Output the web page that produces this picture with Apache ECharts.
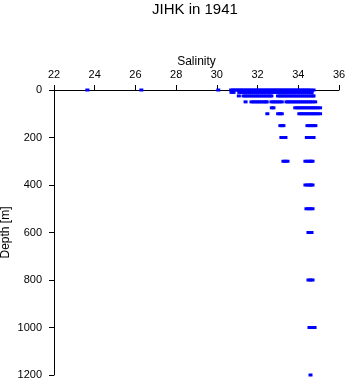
<!DOCTYPE html>
<html><head><meta charset="utf-8">
<script src="https://cdn.jsdelivr.net/npm/echarts@6/dist/echarts.min.js"></script>
<style>html,body{margin:0;padding:0;background:#fff}#c{width:348px;height:384px}</style>
</head><body><div id="c"></div>
<script>
var xTicks = [22, 24, 26, 28, 30, 32, 34, 36];
var yTicks = [0, 200, 400, 600, 800, 1000, 1200];
var depths = [0, 10, 25, 50, 75, 100, 150, 200, 300, 400, 500, 600, 800, 1000, 1200];
var sal0 = [23.64, 26.29, 30.07, 30.7,30.8,30.9,31.0,31.1,31.2,31.3,31.4,31.5,31.6,31.7,31.8,31.9,32.0,32.1,32.2,32.3,32.4,32.5,32.6,32.7,32.8,32.9,33.0,33.1,33.2,33.3,33.4,33.5,33.6,33.7,33.8,33.9,34.0,34.1,34.2,34.3,34.4,34.5,34.6,34.75];
var sal10 = [30.72,30.82, 31.1,31.2,31.3,31.4,31.5,31.6,31.7,31.8,31.9,32.0,32.1,32.2,32.3,32.4,32.5,32.6,32.7,32.8,32.9,33.0,33.1,33.2,33.3,33.4,33.5,33.6,33.7,33.8,33.9,34.0,34.1,34.2,34.3,34.4,34.5,34.6,34.66];
var sal25 = [31.08, 31.31,31.4,31.5,31.6,31.7,31.8,31.9,32.0,32.1,32.2,32.3,32.4,32.5,32.6,32.68, 33.0,33.1,33.2,33.3,33.4,33.5,33.6,33.7,33.8,33.9,34.0,34.1,34.2,34.3,34.4,34.5,34.6,34.7,34.75];
var sal50 = [31.41, 31.7,31.8,31.9,32.0,32.1,32.2,32.3,32.4,32.45, 32.68,32.78,32.88,32.98,33.08,33.19, 33.42,33.5,33.6,33.7,33.8,33.9,34.0,34.1,34.2,34.3,34.4,34.5,34.6,34.7,34.83];
var sal75 = [32.7,32.78, 33.85,33.95,34.05,34.15,34.25,34.35,34.45,34.55,34.65,34.75,34.85,34.95,35.07];
var sal100 = [32.48, 33.01,33.1,33.19, 34.05,34.15,34.25,34.35,34.45,34.55,34.65,34.75,34.85,34.95,35.07];
var sal150 = [33.12,33.2,33.27, 34.45,34.55,34.65,34.75,34.84];
var sal200 = [33.17,33.27,33.37, 34.42,34.52,34.62,34.7,34.75];
var sal300 = [33.27,33.37,33.47, 34.35,34.45,34.55,34.62,34.7];
var sal400 = [34.35,34.45,34.55,34.62,34.7];
var sal500 = [34.4,34.5,34.6,34.7];
var sal600 = [34.5,34.57,34.65];
var sal800 = [34.5,34.6,34.7];
var sal1000 = [34.55,34.65,34.75,34.8];
var sal1200 = [34.6];
var salByDepth = [sal0, sal10, sal25, sal50, sal75, sal100, sal150, sal200, sal300, sal400, sal500, sal600, sal800, sal1000, sal1200];

var points = [];
depths.forEach(function (d, i) {
  salByDepth[i].forEach(function (s) { points.push([s, d]); });
});

var FONT = 'Liberation Sans';
var chart = echarts.init(document.getElementById('c'), null, {renderer: 'canvas'});
chart.setOption({
  animation: false,
  backgroundColor: '#fff',
  title: {
    text: 'JIHK in 1941', left: 152, top: 2, padding: 0,
    textStyle: {fontFamily: FONT, fontSize: 15, fontWeight: 'normal', color: '#000'}
  },
  grid: {left: 54, right: 9, top: 90, bottom: 9, containLabel: false, outerBoundsMode: 'none'},
  xAxis: {
    type: 'value', position: 'top', min: xTicks[0], max: xTicks[xTicks.length - 1], interval: 2,
    name: 'Salinity', nameLocation: 'middle', nameGap: 22, nameMoveOverlap: false,
    nameTextStyle: {fontFamily: FONT, fontSize: 12, color: '#000'},
    axisLine: {show: true, onZero: false, lineStyle: {color: '#000', width: 1}},
    axisTick: {show: true, length: 5, lineStyle: {color: '#000'}},
    axisLabel: {fontFamily: FONT, fontSize: 11, color: '#000', margin: 10, formatter: function (v) { return String(v); }},
    splitLine: {show: false}
  },
  yAxis: {
    type: 'value', inverse: true, min: yTicks[0], max: yTicks[yTicks.length - 1], interval: 200,
    name: 'Depth [m]', nameLocation: 'middle', nameGap: 42, nameMoveOverlap: false,
    nameTextStyle: {fontFamily: FONT, fontSize: 12, color: '#000'},
    axisLine: {show: true, onZero: false, lineStyle: {color: '#000', width: 1}},
    axisTick: {show: true, length: 5, lineStyle: {color: '#000'}},
    axisLabel: {fontFamily: FONT, fontSize: 11, color: '#000', margin: 12, formatter: function (v) { return String(v); }},
    splitLine: {show: false}
  },
  series: [{
    type: 'scatter', data: points, symbol: 'rect', symbolSize: [4, 3],
    itemStyle: {color: '#0000ff', opacity: 1}, silent: true
  }]
});
</script></body></html>
